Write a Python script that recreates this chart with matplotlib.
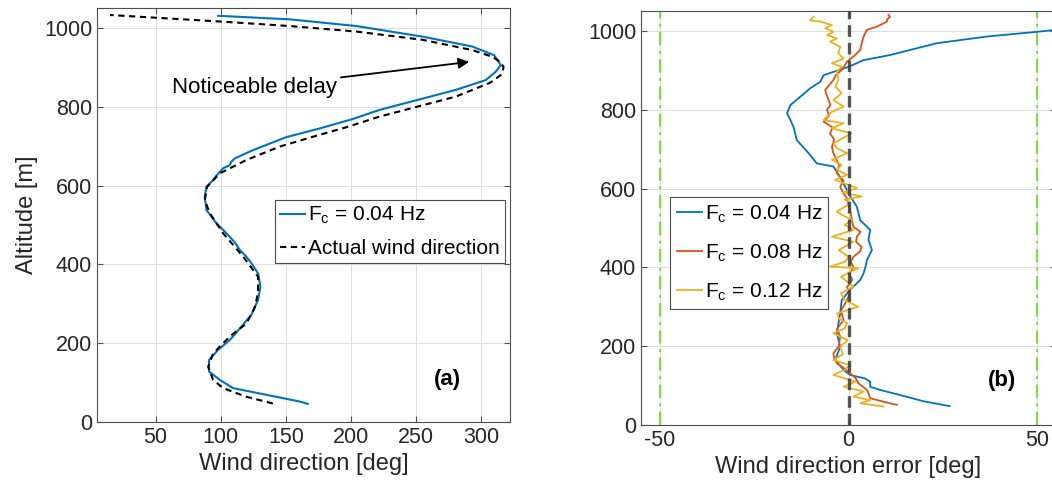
import matplotlib
matplotlib.use("Agg")
import matplotlib.pyplot as plt

plt.rcParams['font.family'] = ['Liberation Sans', 'DejaVu Sans']
plt.rcParams['mathtext.fontset'] = 'custom'
plt.rcParams['mathtext.rm'] = 'Liberation Sans'
plt.rcParams['mathtext.it'] = 'Liberation Sans:italic'
plt.rcParams['axes.unicode_minus'] = False

# ---- panel (a): wind direction profiles ----
alt_actual = [47, 64, 86, 107, 140, 174, 217, 250, 290, 327, 369, 420, 479, 530,
              563, 597, 631, 665, 699, 724, 748, 775, 826, 860, 868, 881, 889,
              902, 915, 927, 944, 970, 991, 1005, 1016, 1033]
dir_actual = [140, 119.7, 101.8, 94.1, 90.3, 94.1, 106.9, 119.7, 126, 128.6,
              128.6, 117.1, 101.8, 91.6, 87.7, 89.5, 99.2, 119.7, 145.2, 170.7,
              196.2, 221.7, 280.5, 306, 309.8, 315, 316.5, 317, 314, 308.5, 293,
              255, 204, 152.8, 101.8, 15]

alt_fc04 = [46, 52, 69, 86, 107, 128, 157, 183, 208, 242, 272, 310, 343, 362,
            377, 403, 420, 437, 455, 470, 487, 504, 538, 572, 597, 614, 623, 644,
            652, 660, 669, 690, 723, 745, 769, 792, 843, 868, 889, 906, 931, 953,
            978, 1005, 1022, 1031]
dir_fc04 = [166.8, 160.5, 135, 109.4, 99.2, 91, 91, 97.9, 106.9, 115.8, 123.5,
            128.6, 130.4, 129.5, 128.6, 123.5, 119.5, 114.5, 111, 106.9, 102,
            96.7, 89, 87.7, 89, 94.1, 96, 101.8, 106.9, 108, 110.7, 124.7, 150.3,
            175.8, 201.3, 221.7, 280.5, 303.5, 311, 315, 309.8, 293, 255, 204,
            152.8, 98]

# ---- panel (b): wind direction error ----
alt_err04 = [48, 60, 76, 89, 97, 110, 118, 127, 140, 165, 199, 233, 284, 317,
             343, 368, 385, 405, 419, 444, 470, 495, 520, 554, 588, 622, 656, 664,
             690, 723, 757, 774, 791, 812, 833, 855, 871, 888, 899, 909, 926, 939,
             969, 986, 998, 1010, 1031]
err04 = [26.8, 20, 13.7, 8.4, 5.75, 5.75, 4.4, 0.4, -1.3, -3.5, -2.2, -3.1,
         -2.2, -1.8, 0.4, 3.1, 4, 4.6, 4.9, 6.2, 5.3, 5.75, 3.1, 2.2, 0, -1.8,
         -4, -8.4, -10.6, -13.7, -14.6, -15.4, -16.3, -15.4, -12.8, -10.1, -7.5,
         -6.6, -3.1, 0, 4, 11, 23.4, 36.7, 50, 62, 83]

alt_err08 = [51, 59, 68, 80, 89, 106, 120, 131, 145, 157, 170, 182, 200, 224,
             245, 266, 290, 310, 334, 350, 368, 385, 400, 415, 427, 440, 452,
             465, 478, 490, 503, 520, 546, 575, 590, 605, 620, 639, 660, 690, 706,
             725, 740, 755, 770, 785, 800, 812, 825, 838, 850, 864, 876, 890, 901,
             922, 935, 952, 969, 986, 994, 1003, 1011, 1024, 1029, 1036, 1041]
err08 = [12.8, 9.3, 5.75, 5.3, 4.9, 2.6, 1.8, 0.45, -1.3, -3.1, -3.8, -4,
         -2.6, -2.2, -3.0, -1.3, -2.0, -0.8, 0.4, -0.4, 1.0, 0.2, 1.3, 0.6, 1.3,
         3.0, 3.5, 2.0, 2.2, 3.2, 1.3, 0.9, 0.4, -0.4, -1.5, -2.2, -1.3, -3.1,
         -2.5, -4, -4.4, -3.8, -4.9, -4.2, -6.6, -5.2, -5.7, -4.8, -5.3, -5.8,
         -6.2, -5.0, -4, -3.2, -1.8, -0.4, 1.3, 3.1, 3.5, 4, 4.4, 4.9, 7.5, 10.2,
         10.2, 11, 10.6]

alt_err12 = [47, 55, 63, 72, 85, 97, 110, 127, 140, 152, 165, 180, 199, 215,
             233, 245, 258, 270, 283, 300, 317, 334, 351, 365, 376, 389, 398, 402,
             414, 427, 444, 455, 465, 478, 495, 508, 520, 541, 563, 572, 580, 590,
             601, 622, 635, 648, 660, 673, 690, 702, 715, 728, 740, 753, 766, 774,
             795, 808, 825, 842, 859, 876, 897, 909, 918, 930, 943, 960, 973, 981,
             990, 998, 1007, 1015, 1024, 1027, 1036]
err12 = [9.3, 3.1, 5.75, 1.3, 4.0, -1.3, 1.8, -4.0, -1.0, 0.4, -4.0, -1.5,
         -2.2, -0.2, -4.0, -1.0, -0.4, -2.5, -3.0, 2.6, -1.0, -2.0, 1.3, -0.5,
         -2.0, 0.5, 2.6, -4.9, -1.0, 0.0, -2.6, -0.5, 1.3, -4.4, 1.3, -1.0, 0.9,
         -3.1, 0.5, -1.0, 3.5, -1.5, 2.2, -3.5, -0.4, -3.1, -1.8, -4.4, -0.4,
         -3.0, -4.0, -1.5, 0.8, -4.4, -1.3, -6.6, -4.4, -1.3, -4.0, -1.8, -3.5,
         -2.7, -3.1, -1.8, -4.4, -1.3, -2.7, -2.2, -4.9, -3.1, -5.7, -4.0, -6.2,
         -4.4, -7.5, -10.2, -9.3]

limit_lines = [-50, 50]

BLUE = '#0072BD'
ORANGE = '#D95319'
YELLOW = '#EDB120'
GREEN = '#7FDB4A'
AX_COLOR = '#262626'
TICK_FS = 15.5
LABEL_FS = 17
LEG_FS = 15


def style_axes(ax):
    for sp in ax.spines.values():
        sp.set_color('#4d4d4d')
        sp.set_linewidth(0.8)
    ax.tick_params(direction='in', length=4, width=0.8, colors='#4d4d4d',
                   labelcolor=AX_COLOR, labelsize=TICK_FS, top=True, right=True)
    ax.grid(True, color='#dedede', linewidth=0.7)
    ax.set_axisbelow(True)


def style_legend(leg):
    frame = leg.get_frame()
    frame.set_edgecolor('#4d4d4d')
    frame.set_linewidth(0.8)


fig = plt.figure(figsize=(10.52, 4.94), dpi=100)

# panel (a)
ax1 = fig.add_axes([97 / 1052, 72 / 494, 413 / 1052, 413.7 / 494])
ax1.plot(dir_fc04, alt_fc04, color=BLUE, lw=1.5, label=r'F$_\mathregular{c}$ = 0.04 Hz')
ax1.plot(dir_actual, alt_actual, color='k', lw=1.5, ls=(0, (3, 2.2)),
         label='Actual wind direction')
ax1.set_xlim(5, 322)
ax1.set_ylim(0, 1050)
ax1.set_xticks([50, 100, 150, 200, 250, 300])
ax1.set_yticks([0, 200, 400, 600, 800, 1000])
ax1.set_xlabel('Wind direction [deg]', fontsize=LABEL_FS, color=AX_COLOR)
ax1.set_ylabel('Altitude [m]', fontsize=LABEL_FS, color=AX_COLOR)
style_axes(ax1)
leg1 = ax1.legend(loc='upper left', bbox_to_anchor=(0.431, 0.537), borderaxespad=0,
                  fontsize=LEG_FS, handlelength=1.2, handletextpad=0.15,
                  labelspacing=0.6, borderpad=0.25, fancybox=False, framealpha=1)
style_legend(leg1)
ax1.annotate('Noticeable delay', xy=(290.7, 914), xytext=(189, 848),
             ha='right', va='center', fontsize=16, color='k',
             arrowprops=dict(arrowstyle='-|>', color='k', lw=1.3,
                             mutation_scale=16, shrinkA=1, shrinkB=0))
ax1.text(274, 107, '(a)', fontsize=16, fontweight='bold', ha='center', va='center')

# panel (b)
ax2 = fig.add_axes([641 / 1052, 69 / 494, 415 / 1052, 413.7 / 494])
for xv in limit_lines:
    ax2.axvline(xv, color=GREEN, lw=1.6, ls=(0, (6, 2.5, 1.2, 2.5)), zorder=1)
ax2.axvline(0, color='#3a3a3a', lw=2.4, ls=(0, (3.5, 1.8)), alpha=0.85, zorder=4)
ax2.plot(err04, alt_err04, color=BLUE, lw=1.3, label=r'F$_\mathregular{c}$ = 0.04 Hz', zorder=3)
ax2.plot(err08, alt_err08, color=ORANGE, lw=1.3, label=r'F$_\mathregular{c}$ = 0.08 Hz', zorder=3)
ax2.plot(err12, alt_err12, color=YELLOW, lw=1.3, label=r'F$_\mathregular{c}$ = 0.12 Hz', zorder=3)
ax2.set_xlim(-55, 55)
ax2.set_ylim(0, 1050)
ax2.set_xticks([-50, 0, 50])
ax2.set_yticks([0, 200, 400, 600, 800, 1000])
ax2.set_xlabel('Wind direction error [deg]', fontsize=LABEL_FS, color=AX_COLOR)
style_axes(ax2)
leg2 = ax2.legend(loc='upper left', bbox_to_anchor=(0.0707, 0.551), borderaxespad=0,
                  fontsize=LEG_FS, handlelength=1.2, handletextpad=0.15,
                  labelspacing=0.85, borderpad=0.3, fancybox=False, framealpha=1)
style_legend(leg2)
ax2.text(40.6, 114, '(b)', fontsize=16, fontweight='bold', ha='center', va='center')

fig.savefig('out.png', dpi=100)
